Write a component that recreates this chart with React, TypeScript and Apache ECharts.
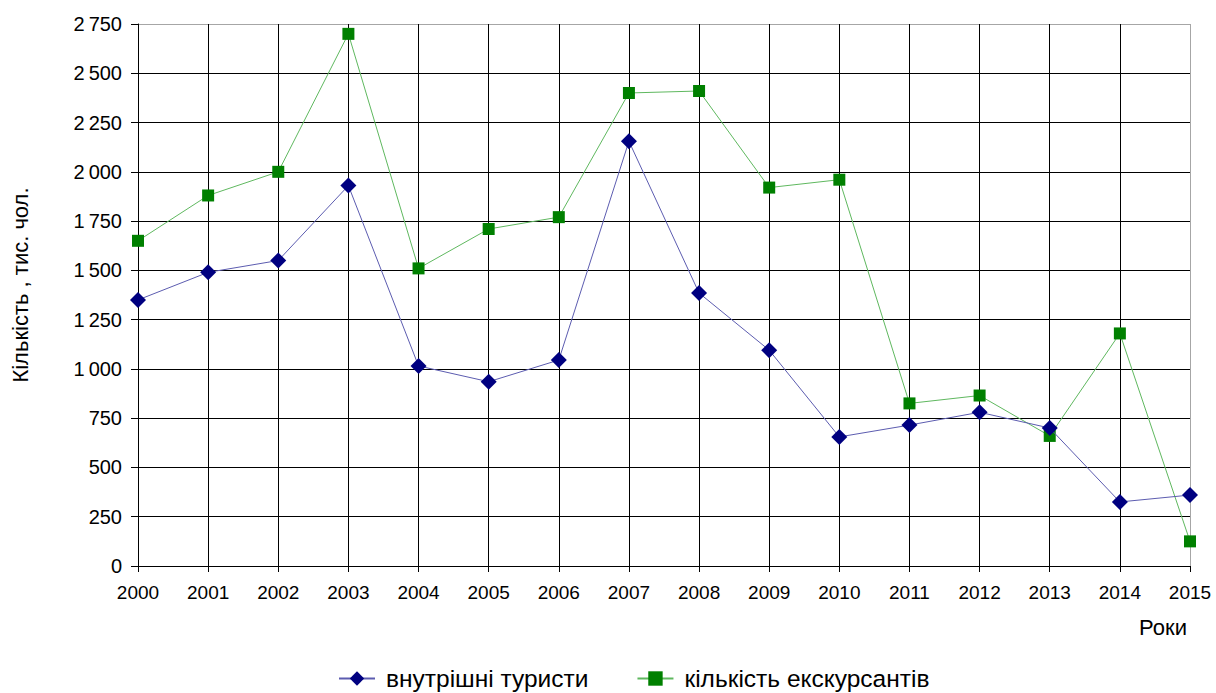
import React, { useEffect, useRef } from "react";
import * as echarts from "echarts";

const years = ["2000","2001","2002","2003","2004","2005","2006","2007","2008","2009","2010","2011","2012","2013","2014","2015"];
const tourists = [1350, 1490, 1550, 1930, 1015, 935, 1045, 2155, 1385, 1095, 655, 715, 780, 700, 325, 360];
const excursants = [1650, 1880, 2000, 2700, 1510, 1710, 1770, 2400, 2410, 1920, 1960, 825, 865, 660, 1180, 125];
const seriesNames = ["внутрішні туристи", "кількість екскурсантів"];
const yTitle = "Кількість , тис. чол.";
const xTitle = "Роки";

const font = "'Liberation Sans', Arial, sans-serif";

export default function App() {
  const ref = useRef<HTMLDivElement>(null);
  useEffect(() => {
    const chart = echarts.init(ref.current!, null, { renderer: "svg" });
    const yColors = Array.from({ length: 12 }, (_, i) => (i === 11 ? "#a6a6a6" : "#000"));
    const xColors = Array.from({ length: 16 }, (_, i) => (i === 15 ? "#a6a6a6" : "#000"));
    chart.setOption({
      animation: false,
      backgroundColor: "#fff",
      textStyle: { fontFamily: font },
      grid: { left: 138, right: 26, top: 24, bottom: 127, containLabel: false },
      legend: {
        top: 664,
        left: 333,
        padding: [2, 5, 2, 5],
        itemWidth: 36,
        itemHeight: 18,
        itemGap: 48,
        textStyle: { fontSize: 24.5, color: "#000", fontFamily: font, padding: [0, 0, 0, 6] },
        data: seriesNames,
      },
      xAxis: {
        type: "category",
        data: years,
        boundaryGap: false,
        axisLine: { lineStyle: { color: "#000", width: 1 } },
        axisTick: { show: true, length: 6, lineStyle: { color: "#000" } },
        axisLabel: { color: "#000", fontSize: 19, margin: 17, fontFamily: font },
        splitLine: { show: true, lineStyle: { color: xColors, width: 1 } },
      },
      yAxis: {
        type: "value",
        min: 0,
        max: 2750,
        interval: 250,
        axisLine: { show: true, lineStyle: { color: "#000", width: 1 } },
        axisTick: { show: true, length: 7, lineStyle: { color: "#000" } },
        axisLabel: {
          color: "#000",
          fontSize: 20,
          margin: 16,
          fontFamily: font,
          formatter: (v: number) => {
            const s = String(v);
            return s.length > 3 ? s.slice(0, s.length - 3) + "\u2009" + s.slice(-3) : s;
          },
        },
        splitLine: { show: true, lineStyle: { color: yColors, width: 1 } },
      },
      graphic: [
        {
          type: "text",
          x: 20,
          y: 285,
          rotation: Math.PI / 2,
          style: { text: yTitle, fontSize: 22, fill: "#000", fontFamily: font, align: "center", verticalAlign: "middle" },
        },
        {
          type: "text",
          x: 1163,
          y: 627,
          style: { text: xTitle, fontSize: 22, fill: "#000", fontFamily: font, align: "center", verticalAlign: "middle" },
        },
      ],
      series: [
        {
          name: seriesNames[0],
          type: "line",
          data: tourists,
          symbol: "diamond",
          symbolSize: 16,
          lineStyle: { color: "#5c5cb0", width: 1 },
          itemStyle: { color: "#000080" },
          z: 3,
        },
        {
          name: seriesNames[1],
          type: "line",
          data: excursants,
          symbol: "rect",
          symbolSize: 12,
          lineStyle: { color: "#5fb85f", width: 1 },
          itemStyle: { color: "#008000" },
          z: 2,
        },
      ],
    });
    return () => chart.dispose();
  }, []);
  return <div ref={ref} style={{ width: 1216, height: 693, position: "fixed", left: 0, top: 0 }} />;
}
